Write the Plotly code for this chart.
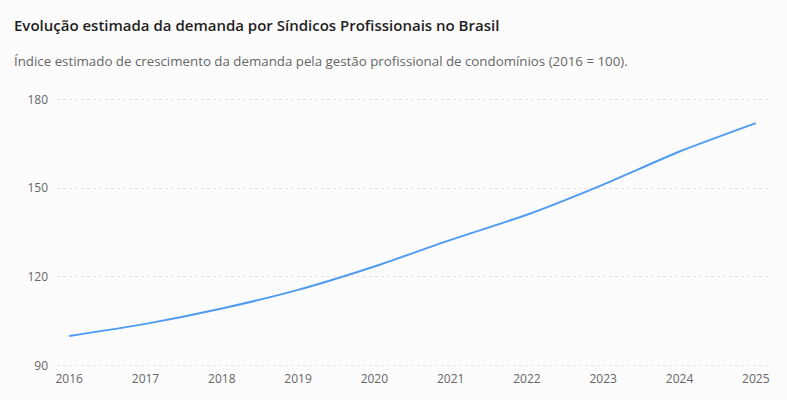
import plotly.graph_objects as go

years = [2016, 2017, 2018, 2019, 2020, 2021, 2022, 2023, 2024, 2025]
demand_index = [100, 104.1, 109.3, 115.6, 123.5, 132.5, 141.0, 151.2, 162.4, 172.0]
y_ticks = [90, 120, 150, 180]

title_text = "Evolução estimada da demanda por Síndicos Profissionais no Brasil"
subtitle_text = "Índice estimado de crescimento da demanda pela gestão profissional de condomínios (2016 = 100)."

FONT = "Open Sans, Noto Sans, sans-serif"

T, B, L, R = 95, 30, 57, 19
W, H = 787, 400
pw = W - L - R
ph = H - T - B

fig = go.Figure()
fig.add_trace(go.Scatter(
    x=years, y=demand_index, mode="lines",
    line=dict(color="#4f9bf3", width=2, shape="spline", smoothing=0.6),
    hoverinfo="x+y", showlegend=False,
))

fig.update_layout(
    width=W, height=H,
    paper_bgcolor="#fcfcfc", plot_bgcolor="#fcfcfc",
    margin=dict(l=L, r=R, t=T, b=B),
    font=dict(family=FONT, size=12, color="#666666"),
)
fig.add_annotation(text=title_text, xref="paper", yref="paper",
                   x=(12 - L) / pw, y=(H - B - 25) / ph, xanchor="left", yanchor="middle",
                   showarrow=False, font=dict(family=FONT, size=15, color="#1f1f1f", weight=600))
fig.add_annotation(text=subtitle_text, xref="paper", yref="paper",
                   x=(12 - L) / pw, y=(H - B - 61) / ph, xanchor="left", yanchor="middle",
                   showarrow=False, font=dict(family=FONT, size=13.3, color="#666666"))

fig.update_xaxes(
    range=[2015.84, 2025.16], tickmode="array", tickvals=years,
    ticktext=[str(y) for y in years], showgrid=False, zeroline=False,
    showline=False, ticks="", tickfont=dict(size=12, color="#666666"),
)
fig.update_yaxes(
    range=[88.5, 181.5], tickmode="array", tickvals=y_ticks,
    showgrid=True, gridcolor="#e4e4e4", griddash="dot", gridwidth=1,
    zeroline=False, showline=False, ticks="", ticklabelstandoff=8,
    tickfont=dict(size=12, color="#666666"),
)

fig.write_html("out.html")
